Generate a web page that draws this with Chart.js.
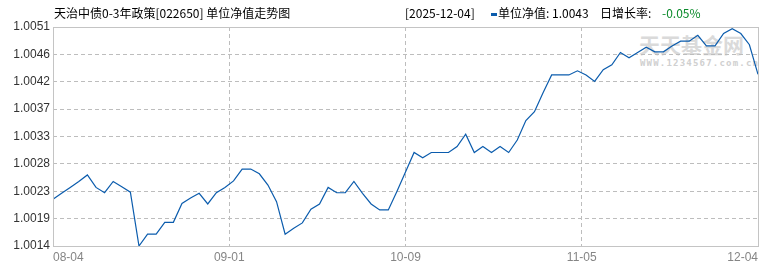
<!DOCTYPE html>
<html>
<head>
<meta charset="utf-8">
<script src="https://cdn.jsdelivr.net/npm/chart.js@4/dist/chart.umd.min.js"></script>
<style>
  html, body { margin: 0; padding: 0; background: #fff; }
  #wrap { position: relative; width: 770px; height: 270px; overflow: hidden; font-family: "Noto Sans CJK SC", "Liberation Sans", sans-serif; }
  #chart { position: absolute; left: 0; top: 0; z-index: 2; }
  .t { position: absolute; font-size: 12px; line-height: 14px; white-space: pre; color: #000; z-index: 3; }
  #wm1 { position: absolute; left: 639px; top: 32px; font-size: 21px; line-height: 24px; font-weight: bold; color: #dadada; letter-spacing: 0px; z-index: 1; }
  #wm2 { position: absolute; left: 640px; top: 58px; font-size: 9px; line-height: 10px; font-weight: bold; color: #d0d0d0; letter-spacing: 1.2px; font-family: "DejaVu Sans Mono", monospace; z-index: 1; }
</style>
</head>
<body>
<div id="wrap">
  <div id="wm1">天天基金网</div>
  <div id="wm2">WWW.1234567.com.cn</div>
  <canvas id="chart" width="770" height="270"></canvas>
  <div class="t" style="left:54px; top:6px;">天治中债0-3年政策[022650] 单位净值走势图</div>
  <div class="t" style="left:405px; top:6px;">[2025-12-04]</div>
  <div style="position:absolute; left:491px; top:13px; width:6px; height:3px; background:#0b5cad; z-index:3;"></div>
  <div class="t" style="left:498px; top:6px;">单位净值: 1.0043</div>
  <div class="t" style="left:600px; top:6px;">日增长率:</div>
  <div class="t" style="left:662px; top:6px; color:#0a8a2a;">-0.05%</div>
</div>
<script>
const navValues = [
  1.00219, 1.00229, 1.00239, 1.00249, 1.00260, 1.00239, 1.00230, 1.00249, 1.00240, 1.00231,
  1.00140, 1.00160, 1.00160, 1.00180, 1.00180, 1.00212, 1.00221, 1.00229, 1.00211, 1.00230,
  1.00239, 1.00250, 1.00270, 1.00270, 1.00262, 1.00243, 1.00215, 1.00160, 1.00170, 1.00179,
  1.00202, 1.00211, 1.00239, 1.00230, 1.00230, 1.00249, 1.00229, 1.00211, 1.00201, 1.00201,
  1.00232, 1.00265, 1.00298, 1.00289, 1.00298, 1.00298, 1.00298, 1.00308, 1.00329, 1.00298,
  1.00308, 1.00298, 1.00308, 1.00298, 1.00319, 1.00352, 1.00367, 1.00399, 1.00429, 1.00429,
  1.00429, 1.00436, 1.00429, 1.00418, 1.00438, 1.00446, 1.00467, 1.00458, 1.00467, 1.00476,
  1.00468, 1.00468, 1.00478, 1.00486, 1.00486, 1.00496, 1.00478, 1.00478, 1.00499, 1.00507,
  1.00499, 1.00480, 1.00430
];
const xTickLabels = ['08-04', '09-01', '10-09', '11-05', '12-04'];
const xTickPositions = [0, 20.5, 41, 61.5, 82];
const yTickLabels = ['1.0014', '1.0019', '1.0023', '1.0028', '1.0033', '1.0037', '1.0042', '1.0046', '1.0051'];
const yMin = 1.0014, yMax = 1.0051;
const yTickValues = yTickLabels.map((_, i) => yMin + (yMax - yMin) * i / (yTickLabels.length - 1));

const points = navValues.map((v, i) => ({ x: i, y: v }));

const frame = {
  id: 'frame',
  afterDraw(chart) {
    const { ctx, chartArea: a } = chart;
    ctx.save();
    ctx.strokeStyle = '#c4c4c4';
    ctx.lineWidth = 1;
    ctx.setLineDash([]);
    ctx.strokeRect(Math.round(a.left) + 0.5, Math.round(a.top) + 0.5, Math.round(a.right - a.left), Math.round(a.bottom - a.top));
    ctx.restore();
  }
};

new Chart(document.getElementById('chart'), {
  type: 'line',
  data: {
    datasets: [{
      data: points,
      borderColor: '#0b5cad',
      borderWidth: 1.2,
      pointRadius: 0,
      tension: 0,
      fill: false
    }]
  },
  options: {
    responsive: false,
    animation: false,
    events: [],
    layout: { padding: { left: 0, right: 12, top: 27, bottom: 0 } },
    plugins: { legend: { display: false }, tooltip: { enabled: false } },
    scales: {
      x: {
        type: 'linear',
        min: 0,
        max: navValues.length - 1,
        afterBuildTicks(scale) { scale.ticks = xTickPositions.map(v => ({ value: v })); },
        afterFit(scale) { scale.height = 24; },
        ticks: {
          autoSkip: false,
          maxRotation: 0,
          align: 'inner',
          padding: 4,
          color: '#858585',
          font: { family: '"Liberation Sans", sans-serif', size: 12 },
          callback: (v, i) => xTickLabels[i]
        },
        grid: { color: '#bdbdbd', lineWidth: 1, drawTicks: false },
        border: { display: false, dash: [4, 3] }
      },
      y: {
        min: yMin,
        max: yMax,
        afterBuildTicks(scale) { scale.ticks = yTickValues.map(v => ({ value: v })); },
        afterFit(scale) { scale.width = 53; },
        ticks: {
          autoSkip: false,
          padding: 3,
          color: '#333',
          font: { family: '"Liberation Sans", sans-serif', size: 12 },
          callback: (v, i) => yTickLabels[i]
        },
        grid: { color: '#bdbdbd', lineWidth: 1, drawTicks: false },
        border: { display: false, dash: [4, 3] }
      }
    }
  },
  plugins: [frame]
});
</script>
</body>
</html>
